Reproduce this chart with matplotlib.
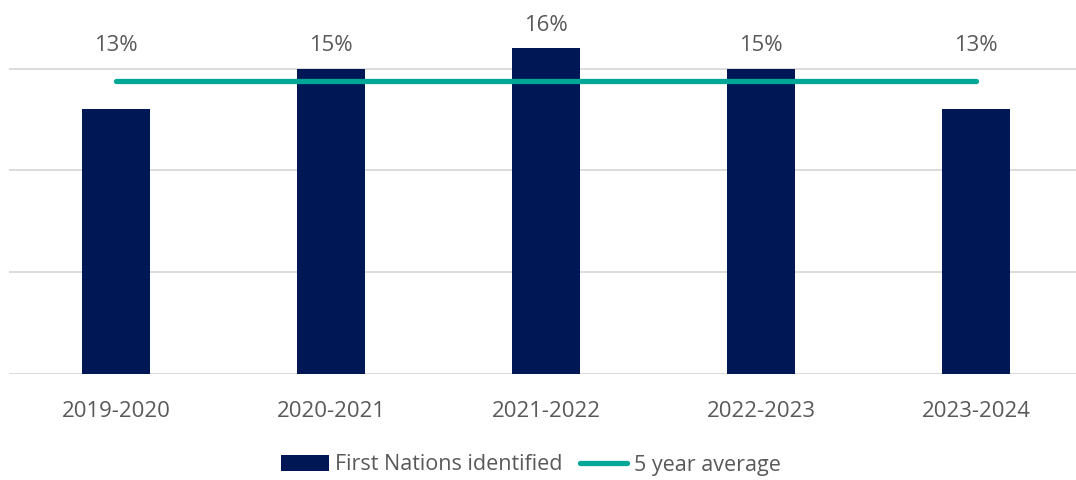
import matplotlib
matplotlib.use("Agg")
import matplotlib.pyplot as plt
from matplotlib.lines import Line2D
from matplotlib.patches import Patch

# Data
years = ["2019-2020", "2020-2021", "2021-2022", "2022-2023", "2023-2024"]
first_nations_pct = [13, 15, 16, 15, 13]
five_year_avg = 14.4

BAR_COLOR = "#001755"
LINE_COLOR = "#00A797"
GRID_COLOR = "#D9D9D9"
TEXT_COLOR = "#595959"

plt.rcParams["font.family"] = ["Open Sans", "DejaVu Sans"]
FS = 15.9
LEGEND_FS = 15.5

W, H = 1076, 480
fig = plt.figure(figsize=(W / 100, H / 100), dpi=100)

# axes placed in pixel terms: x category -0.5 at 8.5 px, baseline at 373.7 px
px_per_cat = 215.0
x0 = 8.5
ax_w = px_per_cat * len(years)
y_base = H - 373.7
px_per_pct = 20.33
ymax = 20
ax_h = px_per_pct * ymax
ax = fig.add_axes([x0 / W, y_base / H, ax_w / W, ax_h / H])

x = list(range(len(years)))
ax.bar(x, first_nations_pct, width=0.316, color=BAR_COLOR, zorder=2)
ax.plot(x, [five_year_avg] * len(x), color=LINE_COLOR, lw=3.8,
        solid_capstyle="round", zorder=3)

ax.set_xlim(-0.5, len(years) - 0.5)
ax.set_ylim(0, ymax)
ax.set_yticks([0, 5, 10, 15, 20])
ax.yaxis.grid(True, color=GRID_COLOR, lw=1.3, zorder=0)
ax.set_axisbelow(True)
ax.tick_params(axis="y", left=False, labelleft=False)
ax.tick_params(axis="x", bottom=False, labelsize=FS, labelcolor=TEXT_COLOR, pad=16.5)
ax.set_xticks(x)
ax.set_xticklabels(years)
for s in ax.spines.values():
    s.set_visible(False)

# value labels sit above the bar or the top gridline, whichever is higher
for xi, v in zip(x, first_nations_pct):
    ax.annotate(f"{v}%", xy=(xi, max(v, 15)), xytext=(0, 9),
                textcoords="offset points", ha="center", va="bottom",
                fontsize=FS, color=TEXT_COLOR, annotation_clip=False)

handles = [Patch(facecolor=BAR_COLOR, edgecolor="none"),
           Line2D([0], [0], color=LINE_COLOR, lw=3.8, solid_capstyle="round")]
fig.legend(handles, ["First Nations identified", "5 year average"],
           loc="center", bbox_to_anchor=(531 / W, 1 - 465 / H), ncol=2,
           frameon=False, fontsize=LEGEND_FS, labelcolor=TEXT_COLOR,
           handlelength=2.2, handleheight=0.7, handletextpad=0.3,
           columnspacing=0.8)

fig.savefig("out.png", dpi=100)
